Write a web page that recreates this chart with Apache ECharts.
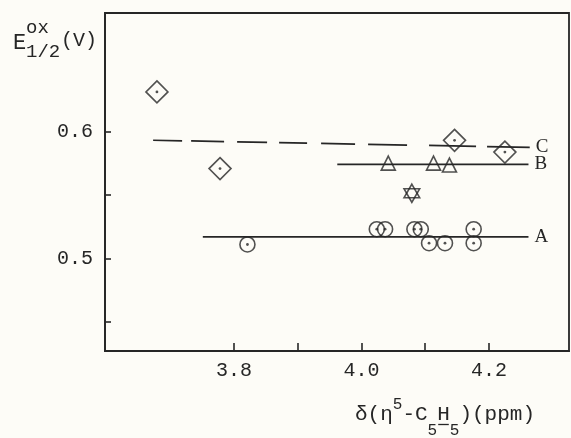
<!DOCTYPE html>
<html>
<head>
<meta charset="utf-8">
<script src="https://cdn.jsdelivr.net/npm/echarts@6/dist/echarts.min.js"></script>
<style>
html,body{margin:0;padding:0;background:#fdfcf7;}
#c{width:571px;height:438px;}
</style>
</head>
<body>
<div id="c"></div>
<script>
// ---- data ----
const circleX = [3.821, 4.024, 4.037, 4.083, 4.093, 4.106, 4.131, 4.176, 4.176];
const circleY = [0.511, 0.523, 0.523, 0.523, 0.523, 0.512, 0.512, 0.523, 0.512];
const triangleX = [4.042, 4.113, 4.138];
const triangleY = [0.575, 0.575, 0.5735];
const starX = [4.079];
const starY = [0.5513];
const diamondX = [3.679, 3.778, 4.146, 4.225];
const diamondY = [0.631, 0.5707, 0.5929, 0.5837];
const lineAX = [3.751, 4.262]; const lineAY = [0.517, 0.517];
const lineBX = [3.962, 4.262]; const lineBY = [0.574, 0.574];
const lineCX = [3.673, 4.264]; const lineCY = [0.593, 0.5874];
const lineNames = ['A', 'B', 'C'];
const xTickValues = [3.8, 3.9, 4.0, 4.1, 4.2];
const xLabelValues = [3.8, 4.0, 4.2];
const yTickValues = [0.45, 0.5, 0.55, 0.6];
const yLabelValues = [0.5, 0.6];
const xRange = [3.5975, 4.3256];
const yRange = [0.4272, 0.6931];

const ink = '#262626';
const mono = '"Liberation Mono", "DejaVu Sans Mono", monospace';
const serif = '"Liberation Serif", "DejaVu Serif", serif';
const zip = (xs, ys) => xs.map((x, i) => [x, ys[i]]);

function lineSeries(xs, ys, name, dash) {
  return {
    type: 'line', name: name, data: zip(xs, ys), showSymbol: false, silent: true,
    lineStyle: { color: ink, width: 1.7, type: dash || 'solid' },
    endLabel: { show: true, formatter: name, color: ink, fontFamily: serif, fontSize: 19, distance: 6 },
    z: 2
  };
}

// x-axis title laid out as sequential text pieces (monospace)
const xTitleParts = [['δ(η', 'm'], ['5', 'sup'], ['-C', 'm'], ['5', 'sub'], ['H', 'u'], ['5', 'sub'], [')(ppm)', 'm']];
const partStyle = { m: { size: 21, y: 414 }, u: { size: 21, y: 414 }, sup: { size: 16, y: 405 }, sub: { size: 16, y: 431 } };
const graphics = [];
let cx = 355;
xTitleParts.forEach(([t, k]) => {
  const st = partStyle[k];
  graphics.push({ type: 'text', style: { text: t, x: cx, y: st.y, font: st.size + 'px ' + mono, fill: ink,
    textAlign: 'left', textVerticalAlign: 'middle', align: 'left', verticalAlign: 'middle' } });
  const w = t.length * st.size * 0.6;
  if (k === 'u') {
    graphics.push({ type: 'line', shape: { x1: cx + 1, y1: 424.5, x2: cx + w - 1, y2: 424.5 }, style: { stroke: ink, lineWidth: 1.3 } });
  }
  cx += w;
});
// y-axis title E^ox_1/2 (V)
[['E', 13, 43, 22], ['ox', 26, 28, 19], ['1/2', 26, 52, 19], ['(V)', 61, 41, 20]].forEach(([t, x, y, s]) => {
  graphics.push({ type: 'text', style: { text: t, x: x, y: y, font: s + 'px ' + mono, fill: ink,
    textAlign: 'left', textVerticalAlign: 'middle', align: 'left', verticalAlign: 'middle' } });
});

const starH = 13.5, starW = 15.6;
const open = { color: 'rgba(0,0,0,0)', borderColor: ink, borderWidth: 1.6 };

const option = {
  backgroundColor: '#fdfcf7',
  animation: false,
  grid: { left: 105, right: 2, top: 13, bottom: 87, show: true, borderColor: ink, borderWidth: 1.8, backgroundColor: 'transparent' },
  xAxis: {
    type: 'value', min: xRange[0], max: xRange[1],
    axisLine: { show: true, lineStyle: { color: ink, width: 1.8 } },
    axisTick: { show: true, inside: true, length: 8, customValues: xTickValues, lineStyle: { color: ink, width: 1.6 } },
    axisLabel: { customValues: xLabelValues, formatter: v => v.toFixed(1), margin: 10, color: ink, fontFamily: mono, fontSize: 20 },
    splitLine: { show: false }
  },
  yAxis: {
    type: 'value', min: yRange[0], max: yRange[1],
    axisLine: { show: true, lineStyle: { color: ink, width: 1.8 } },
    axisTick: { show: true, inside: true, length: 6, customValues: yTickValues, lineStyle: { color: ink, width: 1.6 } },
    axisLabel: { customValues: yLabelValues, formatter: v => v.toFixed(1), margin: 12, color: ink, fontFamily: mono, fontSize: 20 },
    splitLine: { show: false }
  },
  graphic: graphics,
  series: [
    lineSeries(lineAX, lineAY, lineNames[0]),
    lineSeries(lineBX, lineBY, lineNames[1]),
    lineSeries(lineCX, lineCY, lineNames[2], [29, 9, 33, 13, 30, 12, 28, 14, 34, 13, 39, 22, 47, 11, 43]),
    { type: 'scatter', data: zip(circleX, circleY), symbol: 'circle', symbolSize: 15, itemStyle: open, z: 3, silent: true },
    { type: 'scatter', data: zip(circleX, circleY), symbol: 'circle', symbolSize: 2.8, itemStyle: { color: ink }, z: 4, silent: true },
    { type: 'scatter', data: zip(diamondX, diamondY), symbol: 'diamond', symbolSize: 22, itemStyle: open, z: 3, silent: true },
    { type: 'scatter', data: zip(diamondX, diamondY), symbol: 'circle', symbolSize: 2.8, itemStyle: { color: ink }, z: 4, silent: true },
    { type: 'scatter', data: zip(triangleX, triangleY), symbol: 'triangle', symbolSize: [14, 14], itemStyle: open, z: 3, silent: true },
    { type: 'scatter', data: zip(starX, starY), symbol: 'triangle', symbolSize: [starW, starH], symbolOffset: [0, -starH / 6], itemStyle: open, z: 3, silent: true },
    { type: 'scatter', data: zip(starX, starY), symbol: 'path://M0 0 L10 0 L5 8.66 Z', symbolKeepAspect: false, symbolSize: [starW, starH], symbolOffset: [0, starH / 6], itemStyle: open, z: 3, silent: true }
  ]
};
const chart = echarts.init(document.getElementById('c'), null, { renderer: 'canvas' });
chart.setOption(option);
</script>
</body>
</html>
